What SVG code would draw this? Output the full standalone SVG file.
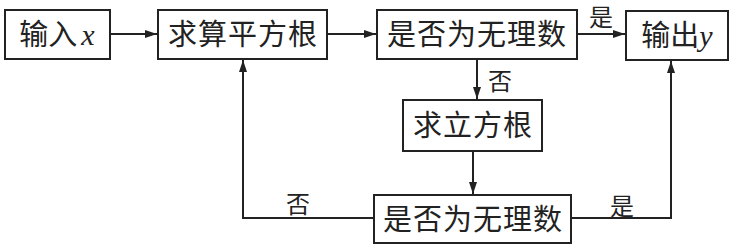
<svg xmlns="http://www.w3.org/2000/svg" width="731" height="250" viewBox="0 0 731 250">
<style>
.box{fill:#fff;stroke:#222;stroke-width:2}
.t{font-family:"Noto Sans CJK SC","Noto Sans",sans-serif;font-size:29px;fill:#222;text-anchor:middle}
.v{font-family:"Liberation Serif",serif;font-style:italic;font-size:30px}
.l{font-family:"Noto Sans CJK SC","Noto Sans",sans-serif;font-size:24px;fill:#222;text-anchor:middle}
.c{fill:none;stroke:#222;stroke-width:2}
</style>
<defs>
<marker id="ah" viewBox="0 0 12 8" refX="12" refY="4" markerWidth="12" markerHeight="8" markerUnits="userSpaceOnUse" orient="auto">
<path d="M0,0 L12,4 L0,8 Z" fill="#222"/>
</marker>
</defs>
<rect width="731" height="250" fill="#fff"/>
<g id="connectors">
<path class="c" d="M110,34 H157" marker-end="url(#ah)"/>
<path class="c" d="M327,34 H376" marker-end="url(#ah)"/>
<path class="c" d="M577,34 H625" marker-end="url(#ah)"/>
<path class="c" d="M477,59 V99" marker-end="url(#ah)"/>
<path class="c" d="M473,151 V194" marker-end="url(#ah)"/>
<path class="c" d="M374,218 H243 V60" marker-end="url(#ah)"/>
<path class="c" d="M571,218 H671 V61" marker-end="url(#ah)"/>
<text class="l" x="601" y="26">是</text>
<text class="l" x="500" y="90">否</text>
<text class="l" x="298" y="213">否</text>
<text class="l" x="622" y="215">是</text>
</g>
<g id="input">
<rect class="box" x="5" y="10" width="105" height="49"/>
<text class="t" x="57" y="45">输入<tspan class="v" dx="4">x</tspan></text>
</g>
<g id="sqrt">
<rect class="box" x="158" y="10" width="169" height="49"/>
<text class="t" x="243" y="45" letter-spacing="1">求算平方根</text>
</g>
<g id="check1">
<rect class="box" x="377" y="10" width="200" height="49"/>
<text class="t" x="477" y="45" letter-spacing="1">是否为无理数</text>
</g>
<g id="output">
<rect class="box" x="626" y="11" width="102" height="49"/>
<text class="t" x="677" y="46">输出<tspan class="v">y</tspan></text>
</g>
<g id="cbrt">
<rect class="box" x="403" y="100" width="139" height="51"/>
<text class="t" x="473" y="136" letter-spacing="1">求立方根</text>
</g>
<g id="check2">
<rect class="box" x="374" y="195" width="197" height="48"/>
<text class="t" x="473" y="230" letter-spacing="1">是否为无理数</text>
</g>
</svg>
